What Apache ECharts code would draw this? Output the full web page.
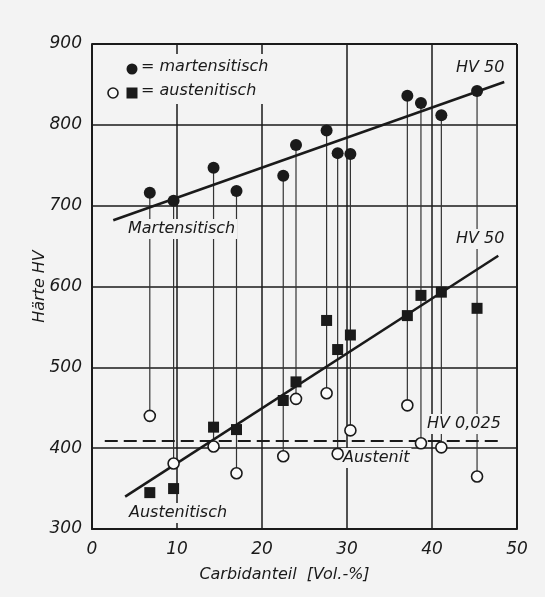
<!DOCTYPE html>
<html>
<head>
<meta charset="utf-8">
<script src="https://cdn.jsdelivr.net/npm/echarts@6/dist/echarts.min.js"></script>
<style>
html,body{margin:0;padding:0;background:#f3f3f3;}
#c{width:545px;height:597px;}
</style>
</head>
<body>
<div id="c"></div>
<script>
// Carbide fraction of each sample [Vol.-%]
var carbide = [6.8, 9.6, 14.3, 17.0, 22.5, 24.0, 27.6, 28.9, 30.4, 37.1, 38.7, 41.1, 45.3];
// Hardness HV of martensitic state (filled circles)
var martensitic = [716, 706, 747, 718, 737, 775, 793, 765, 764, 836, 827, 812, 842];
// Hardness HV 50 of austenitic state (filled squares)
var austeniticHV50 = [345, 350, 426, 423, 459, 482, 558, 522, 540, 564, 589, 593, 573];
// Hardness HV 0.025 of austenite (open circles)
var austeniticHV0025 = [440, 381, 402, 369, 390, 461, 468, 393, 422, 453, 406, 401, 365];
// Regression lines (end points)
var martTrend = [[2.5, 682], [48.5, 853]];
var austTrend = [[3.9, 340], [47.8, 638]];
var austeniteLevel = [[1.5, 409], [48, 409]];
// Axis ticks
var xTicks = [0, 10, 20, 30, 40, 50];
var yTicks = [300, 400, 500, 600, 700, 800, 900];

var ink = '#1a1a1a';
var bg = '#f3f3f3';
var font = 'DejaVu Sans';

function pairs(xs, ys){ return xs.map(function(x,i){ return [x, ys[i]]; }); }
var connectors = carbide.map(function(x,i){ return [x, martensitic[i], austeniticHV0025[i]]; });

function label(text, x, y){
  return {type:'text', left: x, top: y, z: 50,
    style:{text:text, font:'italic 16px "' + font + '"', fill: ink,
      backgroundColor: bg, padding:[2,2,2,2]}};
}

var chart = echarts.init(document.getElementById('c'), null, {renderer:'canvas'});
chart.setOption({
  backgroundColor: bg,
  animation: false,
  grid: {left: 92, right: 28, top: 44, bottom: 68},
  xAxis: {
    type:'value', min: xTicks[0], max: xTicks[xTicks.length-1], interval: 10,
    name: 'Carbidanteil  [Vol.-%]', nameLocation:'middle', nameGap: 38,
    nameTextStyle:{fontFamily:font, fontStyle:'italic', fontSize:16, color:ink, padding:[0,40,0,0]},
    axisLine:{show:true, lineStyle:{color:ink, width:2}},
    axisTick:{show:false},
    axisLabel:{fontFamily:font, fontStyle:'italic', fontSize:17, color:ink, margin:12},
    splitLine:{show:true, lineStyle:{color:ink, width:1.5}}
  },
  yAxis: {
    type:'value', min: yTicks[0], max: yTicks[yTicks.length-1], interval: 100,
    name: 'Härte HV', nameLocation:'middle', nameGap: 44, nameMoveOverlap: false,
    nameTextStyle:{fontFamily:font, fontStyle:'italic', fontSize:16, color:ink},
    axisLine:{show:true, lineStyle:{color:ink, width:2}},
    axisTick:{show:false},
    axisLabel:{fontFamily:font, fontStyle:'italic', fontSize:17, color:ink, margin:10},
    splitLine:{show:true, lineStyle:{color:ink, width:1.5}}
  },
  series: [
    {type:'line', data:[[50,300],[50,900]], showSymbol:false, lineStyle:{color:ink, width:2}, silent:true, z:1},
    {type:'line', data:[[0,900],[50,900]], showSymbol:false, lineStyle:{color:ink, width:2}, silent:true, z:1},
    {
      type:'custom', data: connectors, z: 2,
      renderItem: function(params, api){
        var p1 = api.coord([api.value(0), api.value(1)]);
        var p2 = api.coord([api.value(0), api.value(2)]);
        return {type:'line', shape:{x1:p1[0], y1:p1[1], x2:p2[0], y2:p2[1]},
          style:{stroke:'#333', lineWidth:1.2}};
      }
    },
    {type:'line', data: martTrend, showSymbol:false, lineStyle:{color:ink, width:2.5}, z:3},
    {type:'line', data: austTrend, showSymbol:false, lineStyle:{color:ink, width:2.5}, z:3},
    {type:'line', data: austeniteLevel, showSymbol:false, lineStyle:{color:ink, width:2, type:[13,6]}, z:3},
    {type:'scatter', data: pairs(carbide, martensitic), symbol:'circle', symbolSize:12,
      itemStyle:{color:ink, opacity:1}, z:60},
    {type:'scatter', data: pairs(carbide, austeniticHV50), symbol:'rect', symbolSize:11,
      itemStyle:{color:ink, opacity:1}, z:60},
    {type:'scatter', data: pairs(carbide, austeniticHV0025), symbol:'circle', symbolSize:11,
      itemStyle:{color:'#fafafa', borderColor:ink, borderWidth:1.6, opacity:1}, z:60}
  ],
  graphic: [
    // legend block
    {type:'rect', left:104, top:54, shape:{width:178, height:50}, style:{fill:bg}, z:40},
    {type:'circle', shape:{cx:132, cy:69, r:5.5}, style:{fill:ink}, z:50},
    {type:'text', left:141, top:59, z:50, style:{text:'= martensitisch', font:'italic 16px "'+font+'"', fill:ink}},
    {type:'circle', shape:{cx:113, cy:93, r:5}, style:{fill:'#fafafa', stroke:ink, lineWidth:1.6}, z:50},
    {type:'rect', shape:{x:126.5, y:87.5, width:11, height:11}, style:{fill:ink}, z:50},
    {type:'text', left:141, top:83, z:50, style:{text:'= austenitisch', font:'italic 16px "'+font+'"', fill:ink}},
    // annotations
    label('HV 50', 454, 58),
    label('HV 50', 454, 229),
    label('Martensitisch', 126, 219),
    label('Austenitisch', 127, 503),
    label('Austenit', 341, 448),
    label('HV 0,025', 425, 414)
  ]
});
</script>
</body>
</html>
